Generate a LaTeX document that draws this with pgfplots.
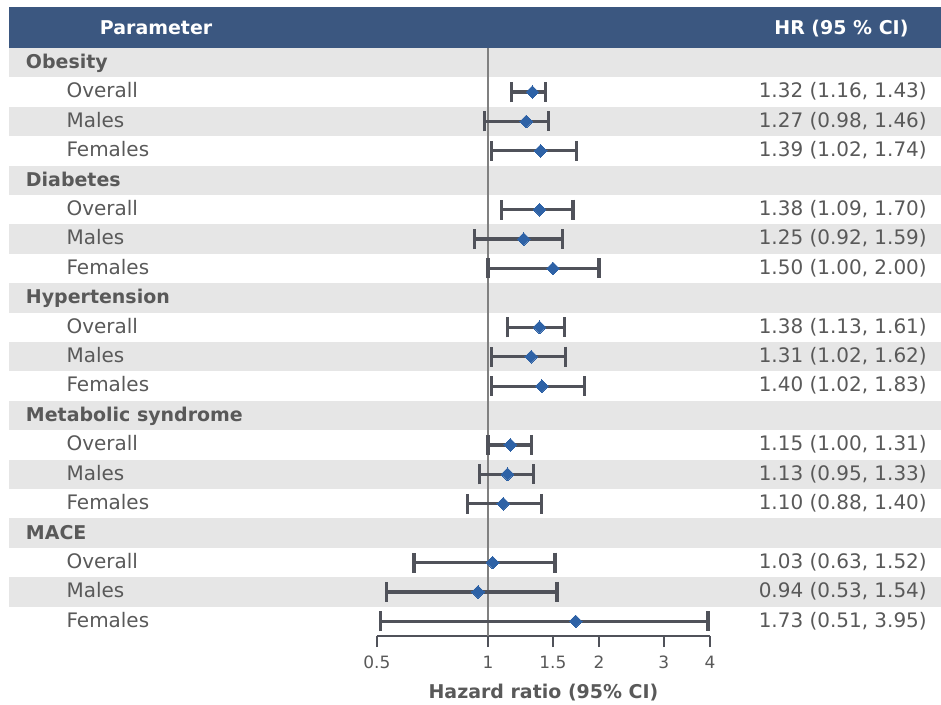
\documentclass[border=0pt]{standalone}
\usepackage{pgfplots}
\pgfplotsset{compat=1.18}
\usepackage{pgfplotstable}
\usepackage{fontspec}
\setmainfont{DejaVu Sans}
\definecolor{hdr}{HTML}{3B5780}
\definecolor{stripe}{HTML}{E6E6E6}
\definecolor{txt}{HTML}{595959}
\definecolor{barc}{HTML}{50525A}
\definecolor{dia}{HTML}{2E62A6}
\definecolor{refl}{HTML}{808080}

\pgfplotstableread{
y hr lo hi
-1 1.32 1.16 1.43
-2 1.27 0.98 1.46
-3 1.39 1.02 1.74
-5 1.38 1.09 1.70
-6 1.25 0.92 1.59
-7 1.50 1.00 2.00
-9 1.38 1.13 1.61
-10 1.31 1.02 1.62
-11 1.40 1.02 1.83
-13 1.15 1.00 1.31
-14 1.13 0.95 1.33
-15 1.10 0.88 1.40
-17 1.03 0.63 1.52
-18 0.94 0.53 1.54
-19 1.73 0.51 3.95
}\hrdata

\newcommand{\grp}[2]{\node[anchor=base west, inner sep=0pt, text=txt, font=\bfseries\fontsize{19}{22}\selectfont] at (axis cs:0.0558,#1) {#2};}
\newcommand{\sub}[2]{\node[anchor=base west, inner sep=0pt, text=txt, font=\fontsize{20}{24}\selectfont] at (axis cs:0.0719,#1) {#2};}
\newcommand{\hrt}[2]{\node[anchor=base east, inner sep=0pt, text=txt, font=\fontsize{20}{24}\selectfont] at (axis cs:15.51,#1) {#2};}

\begin{document}
\begin{tikzpicture}
\begin{axis}[
  xmode=log,
  xmin=0.5, xmax=4, ymin=-19.5, ymax=0.5,
  scale only axis, width=333.5pt, height=589pt,
  axis x line*=bottom, axis y line=none,
  x axis line style={-, draw=barc, line width=2.5pt},
  every outer x axis line/.append style={-, draw=barc, line width=2.5pt},
  clip=false,
  xtick={0.5,1,1.5,2,3,4},
  xticklabels={0.5,1,1.5,2,3,4},
  minor xtick={},
  tick align=outside,
  major tick length=11pt,
  tick style={draw=barc, line width=2.5pt},
  major tick style={draw=barc, line width=2.5pt},
  every x tick/.append style={draw=barc, line width=2.5pt},
  xticklabel style={anchor=base, text=txt, font=\fontsize{17}{20}\selectfont, yshift=-21pt},
  xlabel={Hazard ratio (95\% CI)},
  xlabel style={at={(rel axis cs:0.5,-0.107)}, anchor=base, text=txt, font=\bfseries\fontsize{19}{22}\selectfont},
]
% bounding area
\path (axis cs:0.0475,2.13) rectangle (axis cs:16.93,-21.81);
% header
\fill[hdr] (axis cs:0.0503,0.5) rectangle (axis cs:16.93,1.892);
% stripes
\fill[stripe] (axis cs:0.0503,0.5) rectangle (axis cs:16.93,-0.5);
\fill[stripe] (axis cs:0.0503,-1.5) rectangle (axis cs:16.93,-2.5);
\fill[stripe] (axis cs:0.0503,-3.5) rectangle (axis cs:16.93,-4.5);
\fill[stripe] (axis cs:0.0503,-5.5) rectangle (axis cs:16.93,-6.5);
\fill[stripe] (axis cs:0.0503,-7.5) rectangle (axis cs:16.93,-8.5);
\fill[stripe] (axis cs:0.0503,-9.5) rectangle (axis cs:16.93,-10.5);
\fill[stripe] (axis cs:0.0503,-11.5) rectangle (axis cs:16.93,-12.5);
\fill[stripe] (axis cs:0.0503,-13.5) rectangle (axis cs:16.93,-14.5);
\fill[stripe] (axis cs:0.0503,-15.5) rectangle (axis cs:16.93,-16.5);
\fill[stripe] (axis cs:0.0503,-17.5) rectangle (axis cs:16.93,-18.5);
% header text
\node[anchor=base, inner sep=0pt, text=white, font=\bfseries\fontsize{19}{22}\selectfont] at (axis cs:0.1259,0.965) {Parameter};
\node[anchor=base, inner sep=0pt, text=white, font=\bfseries\fontsize{19}{22}\selectfont] at (axis cs:9.09,0.965) {HR (95 \% CI)};
% reference line
\draw[refl, line width=1.6pt] (axis cs:1,0.5) -- (axis cs:1,-19.5);
% labels
\grp{-0.2}{Obesity}
\sub{-1.2}{Overall}
\sub{-2.2}{Males}
\sub{-3.2}{Females}
\grp{-4.2}{Diabetes}
\sub{-5.2}{Overall}
\sub{-6.2}{Males}
\sub{-7.2}{Females}
\grp{-8.2}{Hypertension}
\sub{-9.2}{Overall}
\sub{-10.2}{Males}
\sub{-11.2}{Females}
\grp{-12.2}{Metabolic syndrome}
\sub{-13.2}{Overall}
\sub{-14.2}{Males}
\sub{-15.2}{Females}
\grp{-16.2}{MACE}
\sub{-17.2}{Overall}
\sub{-18.2}{Males}
\sub{-19.2}{Females}
% HR text
\hrt{-1.2}{1.32 (1.16, 1.43)}
\hrt{-2.2}{1.27 (0.98, 1.46)}
\hrt{-3.2}{1.39 (1.02, 1.74)}
\hrt{-5.2}{1.38 (1.09, 1.70)}
\hrt{-6.2}{1.25 (0.92, 1.59)}
\hrt{-7.2}{1.50 (1.00, 2.00)}
\hrt{-9.2}{1.38 (1.13, 1.61)}
\hrt{-10.2}{1.31 (1.02, 1.62)}
\hrt{-11.2}{1.40 (1.02, 1.83)}
\hrt{-13.2}{1.15 (1.00, 1.31)}
\hrt{-14.2}{1.13 (0.95, 1.33)}
\hrt{-15.2}{1.10 (0.88, 1.40)}
\hrt{-17.2}{1.03 (0.63, 1.52)}
\hrt{-18.2}{0.94 (0.53, 1.54)}
\hrt{-19.2}{1.73 (0.51, 3.95)}
% CIs
\addplot[only marks, mark=none, forget plot,
  error bars/.cd, x dir=both, x explicit, error mark=|,
  error bar style={draw=barc, line width=3.2pt},
  error mark options={draw=barc, line width=3.2pt, mark size=10pt}]
  table[x=hr, y=y, x error plus expr=\thisrow{hi}-\thisrow{hr}, x error minus expr=\thisrow{hr}-\thisrow{lo}] {\hrdata};
% point estimates
\addplot[only marks, mark=square*, mark size=4.5pt,
  mark options={rotate=45, fill=dia, draw=dia, line width=0pt}]
  table[x=hr, y=y] {\hrdata};
\end{axis}
\end{tikzpicture}
\end{document}
